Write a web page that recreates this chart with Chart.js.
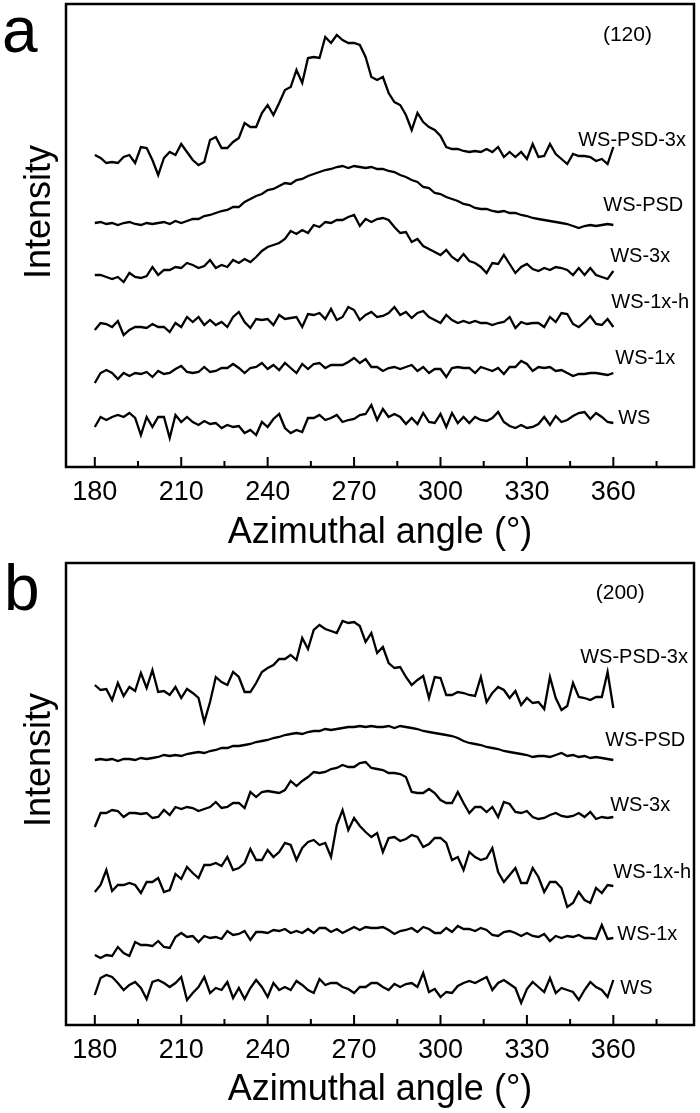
<!doctype html>
<html>
  <head>
    <meta charset="utf-8" />
    <title>Azimuthal intensity profiles</title>
    <script src="https://cdn.jsdelivr.net/npm/chart.js@4.4.0/dist/chart.umd.min.js"></script>
    <style>
      body { margin: 0; background: #fff; overflow: hidden; }
      canvas { position: absolute; left: 0; }
      #chartA { top: 0; }
      #chartB { top: 556px; }
    </style>
  </head>
  <body>
    <canvas id="chartA" width="700" height="556"></canvas>
    <canvas id="chartB" width="700" height="557"></canvas>
    <script>
      // azimuthal angle, every 2 degrees
      const angles = [180,182,184,186,188,190,192,194,196,198,200,202,204,206,208,210,212,214,216,218,220,222,224,226,228,230,232,234,236,238,240,242,244,246,248,250,252,254,256,258,260,262,264,266,268,270,272,274,276,278,280,282,284,286,288,290,292,294,296,298,300,302,304,306,308,310,312,314,316,318,320,322,324,326,328,330,332,334,336,338,340,342,344,346,348,350,352,354,356,358,360];
      const majorTicks = [180, 210, 240, 270, 300, 330, 360];
      const minorTicks = [195, 225, 255, 285, 315, 345, 375];

      // (120) reflection, curves offset vertically (a.u.)
      const psd3xA = [312,309,304,305,304,310,312,304,320,319, 307,292,309,315,312,323,315,307,302,305, 327,330,319,319,325,329,344,340,340,354, 362,352,364,377,380,397,384,409,410,409, 430,424,432,427,424,424,422,410,390,387, 390,374,365,362,352,337,354,345,340,337, 331,320,318,318,316,315,316,315,318,315, 320,310,315,310,315,308,323,310,311,323, 313,308,303,313,311,311,310,306,308,303,320];
      const psdA = [244,245,243,244,242,244,245,243,242,244, 243,244,245,243,246,244,246,248,248,251, 252,254,256,257,260,260,265,268,271,273, 277,278,281,284,283,287,288,291,293,295, 297,298,300,301,299,301,300,299,300,298, 298,296,295,292,290,287,285,280,279,274, 273,270,268,266,263,262,259,258,258,256, 255,256,254,254,252,251,249,248,247,246, 245,244,243,241,239,241,242,241,242,243,242];
      const ws3xA = [192,192,190,188,190,185,194,190,189,191, 200,192,197,197,200,199,204,202,199,201, 207,199,202,200,207,204,208,205,210,216, 220,222,224,228,236,233,237,234,242,240, 245,244,247,247,250,252,241,248,245,248, 249,247,240,234,235,225,228,221,218,215, 212,217,210,206,213,206,204,200,194,204, 203,212,203,194,200,203,198,196,199,197, 200,199,197,192,199,192,199,192,190,188,196];
      const ws1xhA = [137,144,143,140,146,132,137,140,140,139, 143,140,140,135,144,140,150,145,150,142, 147,142,145,140,150,155,145,139,148,147, 148,142,152,148,149,150,140,153,152,154, 148,158,147,150,160,157,147,152,155,150, 151,154,160,152,155,149,154,156,150,147, 144,152,147,144,146,144,146,144,144,142, 144,145,150,139,145,143,144,144,140,150, 145,154,153,143,140,145,151,143,142,148,140];
      const ws1xA = [84,94,97,94,88,94,91,94,93,95, 90,96,93,94,98,101,95,94,95,100, 95,96,99,99,103,99,94,99,100,104, 98,102,97,104,99,94,103,98,103,104, 99,102,102,102,105,109,104,108,100,100, 96,99,100,98,100,102,96,100,94,98, 98,90,99,100,99,99,94,100,98,96, 99,93,100,100,106,103,96,100,99,100, 96,97,94,91,93,93,94,94,93,92,94];
      const wsA = [40,50,47,50,52,50,54,49,32,50, 40,50,50,29,52,45,50,45,42,46, 43,44,39,42,40,41,34,37,32,45, 40,48,53,39,34,37,35,49,49,52, 47,49,52,45,47,48,52,53,62,47, 58,50,53,50,43,49,43,54,45,44, 53,40,54,44,50,44,50,47,46,49, 55,45,41,39,42,39,40,43,50,42, 51,45,47,51,54,55,48,54,50,45,44];

      // (200) reflection
      const psd3xB = [340,335,336,325,342,329,338,334,352,337, 355,333,334,330,338,327,336,332,327,303, 323,348,343,340,353,348,333,333,342,353, 357,360,366,366,370,365,387,376,395,400, 396,394,392,404,402,403,399,383,392,372, 378,362,357,358,348,340,345,349,327,348, 347,330,330,333,332,330,329,348,323,332, 338,335,327,334,320,327,322,323,316,348, 327,315,319,342,328,327,325,328,328,353,317];
      const psdB = [265,266,265,266,264,266,266,265,267,266, 267,268,270,269,270,269,271,272,273,272, 274,275,277,277,279,279,280,281,283,284, 285,287,288,290,291,292,291,293,294,294, 296,295,296,297,298,298,299,298,299,298, 298,299,297,299,298,297,296,294,293,292, 291,290,289,287,284,282,281,280,278,277, 276,274,273,272,271,270,268,269,269,268, 270,272,269,270,268,269,267,268,267,266,265];
      const ws3xB = [198,212,212,215,214,208,212,212,211,212, 207,208,215,210,218,216,218,217,214,216, 218,223,217,218,222,222,217,233,228,233, 234,233,232,235,244,239,244,248,253,252, 253,256,257,260,258,258,262,263,257,256, 255,252,252,251,248,233,232,232,236,232, 225,222,222,233,222,212,218,218,213,218, 208,223,221,213,212,214,208,206,207,210, 212,209,208,209,212,208,213,206,208,207,208];
      const ws1xhB = [133,140,155,134,140,140,142,140,132,143, 143,147,133,135,151,146,158,152,147,160, 160,162,159,168,155,157,162,176,165,165, 175,168,173,182,180,165,177,183,185,180, 182,168,200,215,195,207,199,193,188,192, 173,187,188,184,186,190,188,178,181,187, 187,182,165,168,155,173,168,165,167,177, 153,143,150,157,142,142,157,148,133,143, 143,137,118,122,133,125,122,137,132,140,139];
      const ws1xB = [70,67,70,69,78,72,69,83,80,80, 79,84,78,77,88,92,88,89,83,89, 87,88,86,94,90,91,94,85,93,93, 92,95,94,96,92,94,92,96,92,97, 97,93,96,92,95,98,95,98,97,97, 98,95,91,94,95,97,93,98,96,92, 92,97,93,99,96,96,94,97,95,90, 89,93,94,92,89,92,89,88,91,84, 89,87,89,88,90,87,87,86,100,86,87];
      const wsB = [30,47,50,48,42,35,40,43,37,26, 43,45,42,38,42,48,25,32,38,48, 32,37,35,43,27,37,26,37,45,38, 28,42,35,38,35,44,40,35,32,46, 40,42,42,38,36,32,38,38,42,42, 38,35,41,38,41,42,38,52,33,36, 28,33,32,39,42,44,42,45,48,35, 42,45,41,37,22,36,43,38,33,47, 32,37,35,33,25,35,43,38,35,28,45];

      const sampleNames = ["WS-PSD-3x", "WS-PSD", "WS-3x", "WS-1x-h", "WS-1x", "WS"];
      const FONT = '"Liberation Sans", Arial, Helvetica, sans-serif';
      Chart.defaults.font.family = FONT;
      Chart.defaults.color = "#000";

      function series(vals) {
        return angles.map((a, i) => ({ x: a, y: vals[i] }));
      }

      // box, inward ticks and the text inside the panel
      const framePlugin = {
        id: "frame",
        afterDraw(chart, args, opts) {
          const { ctx, chartArea: ca, scales } = chart;
          const x = scales.x, y = scales.y;
          ctx.save();
          ctx.strokeStyle = "#000";
          ctx.lineWidth = 2.5;
          ctx.strokeRect(ca.left, ca.top, ca.right - ca.left, ca.bottom - ca.top);

          ctx.lineWidth = 2;
          ctx.beginPath();
          majorTicks.forEach((v) => {
            const px = x.getPixelForValue(v);
            ctx.moveTo(px, ca.bottom);
            ctx.lineTo(px, ca.bottom - 10);
          });
          minorTicks.forEach((v) => {
            const px = x.getPixelForValue(v);
            if (px < ca.right) {
              ctx.moveTo(px, ca.bottom);
              ctx.lineTo(px, ca.bottom - 6);
            }
          });
          ctx.stroke();

          ctx.fillStyle = "#000";
          ctx.textBaseline = "middle";
          ctx.textAlign = "left";
          ctx.font = "20px " + FONT;
          opts.names.forEach((n) => {
            ctx.fillText(n.text, x.getPixelForValue(n.x), y.getPixelForValue(n.y));
          });

          ctx.textAlign = "center";
          ctx.font = "21px " + FONT;
          ctx.fillText(opts.plane.text, x.getPixelForValue(opts.plane.x), y.getPixelForValue(opts.plane.y));

          // panel letter
          ctx.textAlign = "left";
          ctx.textBaseline = "alphabetic";
          ctx.font = "64px " + FONT;
          ctx.fillText(opts.letter, opts.letterX, opts.letterY);

          // y axis name
          ctx.translate(40, y.getPixelForValue(opts.intensityAt));
          ctx.rotate(-Math.PI / 2);
          ctx.textAlign = "center";
          ctx.textBaseline = "middle";
          ctx.font = "36px " + FONT;
          ctx.fillText("Intensity", 0, 0);
          ctx.restore();
        },
      };

      function makeChart(id, sets, yMax, top, axisHeight, frameOpts) {
        return new Chart(document.getElementById(id), {
          type: "line",
          data: {
            datasets: sets.map((vals, i) => ({
              label: sampleNames[i],
              data: series(vals),
              borderColor: "#000",
              borderWidth: 2.3,
              borderJoinStyle: "miter",
              pointRadius: 0,
              tension: 0,
              fill: false,
            })),
          },
          options: {
            responsive: false,
            animation: false,
            devicePixelRatio: 1,
            layout: { padding: { left: 66, right: 6, top: top, bottom: 0 } },
            plugins: {
              legend: { display: false },
              tooltip: { enabled: false },
              frame: frameOpts,
            },
            scales: {
              x: {
                type: "linear",
                min: 170,
                max: 388,
                afterBuildTicks: (s) => {
                  s.ticks = majorTicks.map((v) => ({ value: v }));
                },
                afterFit: (s) => {
                  s.height = axisHeight;
                },
                grid: { display: false, drawTicks: false },
                border: { display: false },
                ticks: {
                  font: { size: 27 },
                  color: "#000",
                  padding: 9,
                  maxRotation: 0,
                  autoSkip: false,
                },
                title: {
                  display: true,
                  text: "Azimuthal angle (°)",
                  font: { size: 36 },
                  color: "#000",
                  padding: { top: 0, bottom: 1 },
                },
              },
              y: {
                display: false,
                min: 0,
                max: yMax,
              },
            },
          },
          plugins: [framePlugin],
        });
      }

      makeChart("chartA", [psd3xA, psdA, ws3xA, ws1xhA, ws1xA, wsA], 463, 4, 89, {
        letter: "a",
        letterX: 2,
        letterY: 52,
        intensityAt: 255,
        plane: { text: "(120)", x: 364.9, y: 432 },
        names: [
          { text: sampleNames[0], x: 347.8, y: 327 },
          { text: sampleNames[1], x: 356.5, y: 262 },
          { text: sampleNames[2], x: 358.9, y: 211 },
          { text: sampleNames[3], x: 359.3, y: 165 },
          { text: sampleNames[4], x: 360.7, y: 109 },
          { text: sampleNames[5], x: 361.7, y: 49 },
        ],
      });

      makeChart("chartB", [psd3xB, psdB, ws3xB, ws1xhB, ws1xB, wsB], 462, 7, 88, {
        letter: "b",
        letterX: 4,
        letterY: 54,
        intensityAt: 265,
        plane: { text: "(200)", x: 362.4, y: 432 },
        names: [
          { text: sampleNames[0], x: 348.5, y: 368 },
          { text: sampleNames[1], x: 357.2, y: 285 },
          { text: sampleNames[2], x: 358.9, y: 220 },
          { text: sampleNames[3], x: 360.0, y: 153 },
          { text: sampleNames[4], x: 361.4, y: 91 },
          { text: sampleNames[5], x: 362.4, y: 37 },
        ],
      });
    </script>
  </body>
</html>
